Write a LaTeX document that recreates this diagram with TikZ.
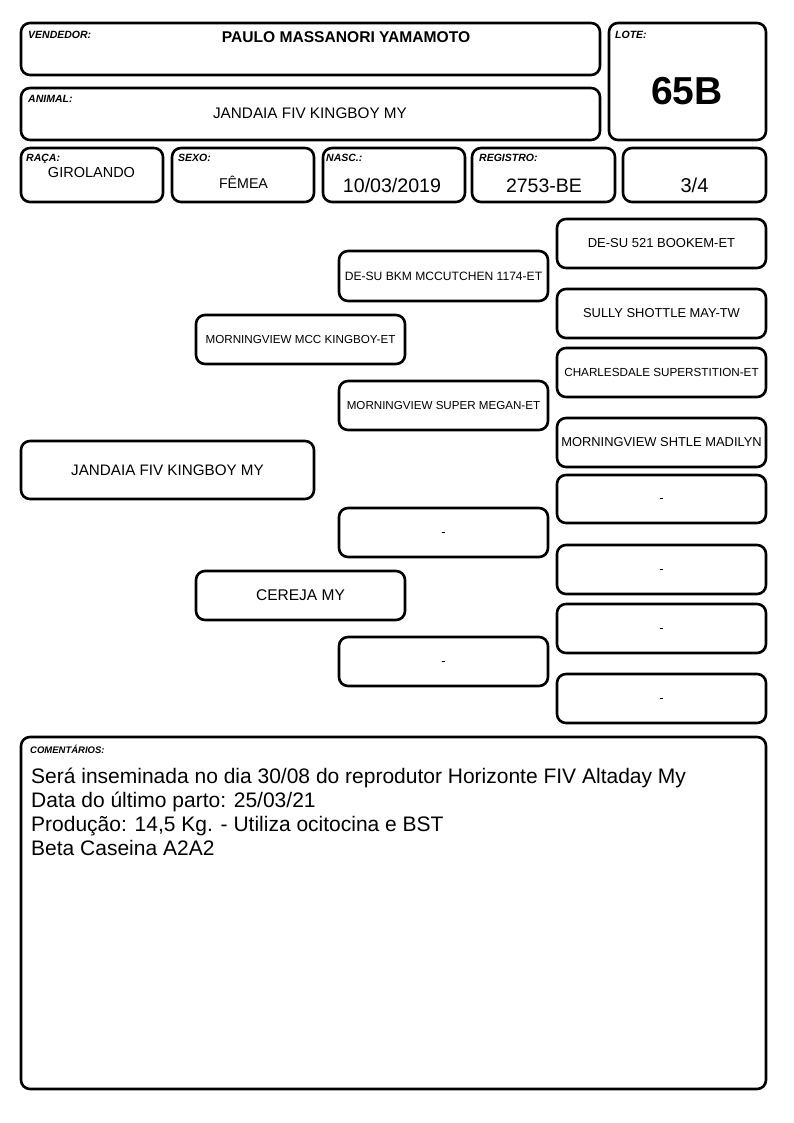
\documentclass[tikz,border=0pt]{standalone}
\usepackage{fontspec}
\setmainfont{Liberation Sans}
\newcommand{\myfs}[1]{\fontsize{#1}{#1}\selectfont}
\newcommand{\dsh}{\raisebox{-3.5pt}[0pt][0pt]{-}}
\begin{document}
\begin{tikzpicture}[x=1pt,y=-1pt,
  box/.style={draw, line width=2.6pt, rounded corners=9pt, inner sep=0pt},
  ped/.style={box, minimum width=209pt, minimum height=49pt, align=center},
  lbl/.style={anchor=base west, inner sep=0pt, font=\myfs{10.5}\bfseries\itshape},
  val/.style={anchor=base, inner sep=0pt},
  cmt/.style={anchor=base west, inner sep=0pt, font=\myfs{21}}]
\useasboundingbox (0,0) rectangle (794,1123);
% header boxes
\node[box, minimum width=579pt, minimum height=52pt] (vend) at (310.5,49) {};
\node[box, minimum width=579pt, minimum height=52pt] (anim) at (310.5,114) {};
\node[box, minimum width=157pt, minimum height=117pt] (lote) at (687.5,81.5) {};
\node[box, minimum width=142pt, minimum height=54pt] (raca) at (92,175) {};
\node[box, minimum width=142pt, minimum height=54pt] (sexo) at (243,175) {};
\node[box, minimum width=142pt, minimum height=54pt] (nasc) at (394,175) {};
\node[box, minimum width=143pt, minimum height=54pt] (reg) at (543.5,175) {};
\node[box, minimum width=143pt, minimum height=54pt] (frac) at (694.5,175) {};
% labels
\node[lbl] (vendl) at (28,39) {VENDEDOR:};
\node[lbl] (animl) at (28,103) {ANIMAL:};
\node[lbl] (lotel) at (615,39) {LOTE:};
\node[lbl] (racal) at (26,162) {RAÇA:};
\node[lbl] (sexol) at (178,162) {SEXO:};
\node[lbl] (nascl) at (326,162) {NASC.:};
\node[lbl] (regl) at (479,162) {REGISTRO:};
% values
\node[val, font=\myfs{15.6}\bfseries] (vendv) at (346,43) {PAULO MASSANORI YAMAMOTO};
\node[val, font=\myfs{15.3}] (animv) at (310,119) {JANDAIA FIV KINGBOY MY};
\node[val, font=\myfs{39}\bfseries] (lotev) at (687,105) {65B};
\node[val, font=\myfs{14.5}] (racav) at (91.5,178) {GIROLANDO};
\node[val, font=\myfs{14.2}] (sexov) at (243.5,189) {FÊMEA};
\node[val, font=\myfs{19.6}] (nascv) at (392,193) {10/03/2019};
\node[val, font=\myfs{19.5}] (regv) at (544,193) {2753-BE};
\node[val, font=\myfs{20}] (fracv) at (694.5,193) {3/4};
% pedigree
\node[box, minimum width=293pt, minimum height=58pt, font=\myfs{15.2}] (p0) at (167.5,470) {JANDAIA FIV KINGBOY MY};
\node[ped, font=\myfs{11.65}] (p1) at (300.5,339.5) {MORNINGVIEW MCC KINGBOY-ET};
\node[ped, font=\myfs{15.5}] (p2) at (300.5,595.5) {CEREJA MY};
\node[ped, minimum height=50pt, font=\myfs{12.1}] (p11) at (443.5,276) {DE-SU BKM MCCUTCHEN 1174-ET};
\node[ped, font=\myfs{11.6}] (p12) at (443.5,405.5) {MORNINGVIEW SUPER MEGAN-ET};
\node[ped, font=\myfs{13}] (p21) at (443.5,532.5) {\dsh};
\node[ped, font=\myfs{13}] (p22) at (443.5,661.5) {\dsh};
\node[ped, font=\myfs{13}] (p111) at (661.5,243.5) {DE-SU 521 BOOKEM-ET};
\node[ped, font=\myfs{12.9}] (p112) at (661.5,313.5) {SULLY SHOTTLE MAY-TW};
\node[ped, font=\myfs{11.7}] (p121) at (661.5,372.5) {CHARLESDALE SUPERSTITION-ET};
\node[ped, font=\myfs{12.9}] (p122) at (661.5,442.5) {MORNINGVIEW SHTLE MADILYN};
\node[ped, minimum height=48pt, font=\myfs{13}] (p211) at (661.5,499) {\dsh};
\node[ped, font=\myfs{13}] (p212) at (661.5,569.5) {\dsh};
\node[ped, font=\myfs{13}] (p221) at (661.5,628.5) {\dsh};
\node[ped, font=\myfs{13}] (p222) at (661.5,698.5) {\dsh};
% comments
\node[box, minimum width=745pt, minimum height=352pt] (com) at (393.5,913) {};
\node[lbl, font=\myfs{9.5}\bfseries\itshape] (coml) at (30,753) {COMENTÁRIOS:};
\node[cmt] (c1) at (31,783) {Será inseminada no dia 30/08 do reprodutor Horizonte FIV Altaday My};
\node[cmt] (c2) at (31,807) {Data do último parto: 25/03/21};
\node[cmt] (c3) at (31,831) {Produção: 14,5 Kg. - Utiliza ocitocina e BST};
\node[cmt] (c4) at (31,855) {Beta Caseina A2A2};
\end{tikzpicture}
\end{document}
